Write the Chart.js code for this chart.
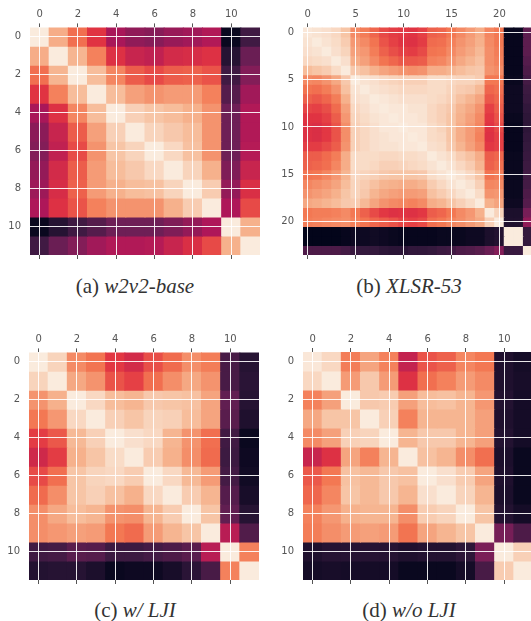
<!DOCTYPE html>
<html>
<head>
<meta charset="utf-8">
<title>Heatmaps</title>
<script src="https://cdn.jsdelivr.net/npm/chart.js@4/dist/chart.umd.min.js"></script>
<style>
  html, body { margin: 0; padding: 0; background: #fff; overflow: hidden; width: 531px; height: 621px; }
  .panel { position: absolute; filter: blur(0.4px); }
  .caption { position: absolute; transform: translate(-50%, -50%); font: 21px "Liberation Serif", serif; color: #333; white-space: nowrap; }
</style>
</head>
<body>
<canvas class="panel" id="chartA" style="left:0;top:0"></canvas>
<canvas class="panel" id="chartB" style="left:270px;top:0"></canvas>
<canvas class="panel" id="chartC" style="left:0;top:325px"></canvas>
<canvas class="panel" id="chartD" style="left:270px;top:325px"></canvas>
<div class="caption" style="left:135px;top:286px">(a) <i>w2v2-base</i></div>
<div class="caption" style="left:409px;top:286px">(b) <i>XLSR-53</i></div>
<div class="caption" style="left:135px;top:610px">(c) <i>w/ LJI</i></div>
<div class="caption" style="left:409px;top:610px">(d) <i>w/o LJI</i></div>
<script>
const rocketStops = ['#03051a', '#35193e', '#701f57', '#ad1759', '#e13342', '#f37651', '#f6b48f', '#faebdd'];

const base = [
  [1.00, .84, .70, .57, .42, .36, .34, .38, .40, .44, .02, .17],
  [.84, 1.00, .86, .74, .56, .50, .48, .53, .54, .56, .10, .27],
  [.70, .86, 1.00, .88, .75, .66, .62, .66, .67, .64, .17, .33],
  [.57, .74, .88, 1.00, .88, .81, .78, .80, .80, .74, .22, .40],
  [.42, .56, .75, .88, 1.00, .93, .90, .88, .85, .78, .28, .44],
  [.35, .50, .66, .81, .93, 1.00, .94, .91, .88, .78, .28, .44],
  [.33, .48, .62, .78, .90, .94, 1.00, .95, .89, .78, .28, .45],
  [.37, .53, .66, .80, .88, .91, .95, 1.00, .94, .85, .32, .50],
  [.39, .54, .67, .80, .85, .88, .89, .94, 1.00, .92, .37, .55],
  [.43, .56, .64, .74, .78, .78, .78, .85, .92, 1.00, .43, .62],
  [.02, .10, .17, .22, .28, .28, .28, .32, .37, .43, 1.00, .85],
  [.17, .27, .33, .40, .44, .44, .45, .50, .55, .62, .85, 1.00],
];

const xlsr = [
  [.99, .98, .97, .95, .90, .76, .73, .68, .62, .59, .58, .57, .60, .67, .68, .72, .76, .80, .84, .75, .72, .01, .01, .24],
  [.98, 1.00, .98, .96, .92, .79, .76, .71, .64, .60, .57, .56, .59, .69, .70, .74, .78, .81, .85, .76, .72, .01, .01, .24],
  [.97, .98, 1.00, .97, .94, .81, .79, .73, .67, .63, .60, .59, .62, .71, .72, .76, .80, .83, .87, .77, .73, .01, .01, .24],
  [.95, .96, .97, 1.00, .97, .84, .81, .76, .71, .68, .65, .65, .66, .74, .75, .79, .83, .86, .89, .77, .74, .01, .01, .22],
  [.88, .90, .92, .96, 1.00, .91, .89, .85, .82, .80, .78, .77, .78, .84, .84, .86, .88, .90, .91, .78, .76, .01, .01, .20],
  [.76, .75, .78, .83, .91, 1.00, .98, .97, .95, .94, .93, .93, .93, .96, .96, .95, .94, .94, .92, .72, .72, .02, .02, .18],
  [.71, .70, .73, .78, .89, .98, 1.00, .98, .97, .96, .95, .95, .95, .96, .96, .94, .92, .91, .87, .68, .70, .03, .03, .16],
  [.67, .65, .68, .73, .85, .97, .98, 1.00, .99, .98, .97, .97, .97, .96, .95, .93, .89, .86, .82, .65, .68, .03, .03, .15],
  [.61, .60, .63, .69, .81, .95, .97, .99, 1.00, .99, .99, .98, .98, .95, .93, .91, .86, .83, .78, .60, .66, .03, .03, .13],
  [.57, .57, .60, .66, .79, .94, .96, .98, .99, 1.00, .99, .99, .98, .95, .93, .90, .85, .81, .76, .58, .64, .02, .02, .12],
  [.56, .55, .58, .64, .77, .93, .95, .97, .99, .99, 1.00, .99, .99, .96, .94, .90, .84, .80, .75, .57, .62, .01, .01, .12],
  [.56, .55, .58, .64, .77, .93, .95, .97, .98, .99, .99, 1.00, .99, .96, .95, .90, .84, .80, .74, .56, .60, .01, .01, .13],
  [.59, .59, .62, .66, .78, .93, .95, .97, .98, .98, .99, .99, 1.00, .97, .96, .91, .86, .81, .76, .58, .60, .01, .01, .14],
  [.66, .66, .69, .73, .84, .96, .96, .96, .95, .95, .96, .96, .97, 1.00, .98, .96, .92, .89, .84, .66, .68, .02, .02, .15],
  [.67, .68, .70, .75, .84, .96, .96, .95, .93, .93, .94, .95, .96, .98, 1.00, .98, .95, .92, .86, .67, .70, .02, .02, .16],
  [.71, .72, .75, .79, .86, .95, .94, .93, .91, .90, .90, .90, .91, .96, .98, 1.00, .98, .95, .90, .71, .73, .02, .02, .17],
  [.75, .77, .79, .82, .88, .94, .92, .89, .86, .85, .84, .84, .86, .92, .95, .98, 1.00, .98, .93, .75, .76, .02, .02, .18],
  [.78, .80, .82, .85, .90, .94, .91, .86, .83, .81, .80, .80, .81, .89, .92, .95, .98, 1.00, .96, .78, .79, .02, .02, .20],
  [.83, .84, .86, .88, .91, .92, .87, .82, .78, .76, .75, .74, .76, .84, .86, .90, .93, .96, 1.00, .85, .82, .03, .03, .22],
  [.72, .73, .73, .74, .76, .72, .67, .62, .58, .56, .57, .56, .58, .66, .68, .72, .76, .79, .85, 1.00, .94, .07, .07, .30],
  [.73, .74, .75, .76, .77, .74, .71, .68, .66, .64, .61, .60, .62, .70, .72, .75, .77, .80, .83, .93, 1.00, .08, .08, .36],
  [.00, .00, .00, .00, .01, .03, .03, .04, .03, .02, .01, .01, .01, .01, .02, .02, .02, .03, .03, .07, .09, 1.00, 1.00, .14],
  [.00, .00, .00, .00, .01, .03, .03, .04, .03, .02, .01, .01, .01, .01, .02, .02, .02, .03, .03, .07, .09, 1.00, 1.00, .14],
  [.20, .20, .20, .20, .18, .15, .14, .14, .12, .11, .11, .13, .13, .14, .16, .17, .20, .21, .23, .27, .33, .15, .15, 1.00],
];

const withLji = [
  [1.00, .94, .76, .71, .58, .53, .63, .69, .77, .73, .19, .10],
  [.94, 1.00, .83, .78, .64, .60, .70, .77, .83, .78, .19, .11],
  [.78, .85, 1.00, .95, .88, .86, .91, .90, .89, .82, .25, .10],
  [.72, .79, .95, 1.00, .93, .90, .94, .93, .88, .82, .23, .08],
  [.59, .65, .87, .93, 1.00, .97, .95, .86, .78, .70, .17, .02],
  [.52, .59, .85, .90, .96, 1.00, .92, .85, .77, .69, .16, .03],
  [.62, .70, .90, .94, .95, .92, 1.00, .95, .87, .80, .18, .04],
  [.69, .77, .90, .93, .89, .85, .95, 1.00, .92, .86, .22, .06],
  [.77, .83, .88, .86, .78, .77, .86, .92, 1.00, .90, .25, .10],
  [.77, .79, .81, .80, .72, .69, .80, .86, .90, 1.00, .46, .21],
  [.17, .18, .23, .22, .16, .16, .18, .20, .23, .46, 1.00, .74],
  [.09, .10, .10, .07, .02, .03, .03, .06, .11, .19, .74, 1.00],
];

const withoutLji = [
  [.99, .95, .73, .82, .74, .49, .64, .67, .75, .72, .08, .05],
  [.95, 1.00, .80, .91, .80, .56, .70, .74, .80, .76, .08, .06],
  [.74, .81, 1.00, .91, .92, .81, .88, .89, .86, .79, .09, .05],
  [.83, .90, .90, 1.00, .93, .74, .86, .86, .86, .81, .08, .05],
  [.76, .81, .93, .94, 1.00, .86, .91, .91, .86, .81, .09, .05],
  [.50, .56, .82, .74, .86, 1.00, .89, .86, .77, .70, .07, .02],
  [.65, .72, .89, .87, .91, .89, 1.00, .97, .92, .82, .08, .02],
  [.68, .75, .90, .87, .91, .86, .97, 1.00, .94, .86, .07, .02],
  [.74, .79, .85, .86, .86, .77, .92, .94, 1.00, .90, .09, .05],
  [.73, .77, .80, .81, .80, .71, .82, .86, .90, 1.00, .30, .20],
  [.08, .10, .10, .10, .10, .08, .09, .09, .12, .31, 1.00, .93],
  [.05, .06, .05, .05, .05, .02, .02, .02, .05, .19, .92, 1.00],
];

function hexToRgb(hex) {
  return [1, 3, 5].map((i) => parseInt(hex.slice(i, i + 2), 16));
}

function rocket(v) {
  const pos = Math.min(Math.max(v, 0), 1) * (rocketStops.length - 1);
  const i = Math.min(Math.floor(pos), rocketStops.length - 2);
  const a = hexToRgb(rocketStops[i]);
  const b = hexToRgb(rocketStops[i + 1]);
  const c = a.map((x, k) => Math.round(x + (b[k] - x) * (pos - i)));
  return `rgb(${c[0]}, ${c[1]}, ${c[2]})`;
}

function drawHeatmap(id, matrix, step, frame) {
  const canvas = document.getElementById(id);
  canvas.width = frame.width;
  canvas.height = frame.height;
  canvas.style.width = frame.width + 'px';
  canvas.style.height = frame.height + 'px';

  const n = matrix.length;
  const labels = matrix.map((_, i) => String(i));
  const tickFont = { family: 'DejaVu Sans', size: 10 };
  const keepTicks = (scale) => {
    scale.ticks = scale.ticks.filter((t) => t.value % step === 0);
  };

  const xBase = {
    type: 'category',
    labels,
    offset: true,
    border: { display: false },
  };

  // eslint-disable-next-line no-new
  new Chart(canvas, {
    type: 'bar',
    data: {
      labels,
      datasets: matrix.map((row, r) => ({
        data: row.map(() => [r, r + 1]),
        backgroundColor: (ctx) => rocket(row[ctx.dataIndex]),
        borderWidth: 0,
        barPercentage: 1,
        categoryPercentage: 1,
        inflateAmount: 0.5,
        grouped: false,
      })),
    },
    options: {
      responsive: false,
      animation: false,
      devicePixelRatio: 1,
      layout: {
        autoPadding: false,
        padding: { right: frame.width - frame.left - frame.size },
      },
      plugins: { legend: { display: false }, tooltip: { enabled: false } },
      scales: {
        x: {
          ...xBase,
          position: 'bottom',
          afterBuildTicks: keepTicks,
          afterFit: (scale) => { scale.height = frame.height - frame.top - frame.size; },
          ticks: { autoSkip: false, maxRotation: 0, display: false },
          grid: {
            offset: false,
            color: 'rgba(255, 255, 255, 0.9)',
            lineWidth: 1,
            z: 1,
            tickColor: '#555',
            tickLength: 4,
          },
        },
        xTop: {
          ...xBase,
          axis: 'x',
          position: 'top',
          afterBuildTicks: keepTicks,
          afterFit: (scale) => { scale.height = frame.top; },
          ticks: { autoSkip: false, maxRotation: 0, color: '#555', font: tickFont, padding: 3 },
          grid: { offset: false, drawOnChartArea: false, tickColor: '#555', tickLength: 4 },
        },
        y: {
          min: 0,
          max: n,
          reverse: true,
          position: 'left',
          border: { display: false },
          afterBuildTicks: (scale) => {
            scale.ticks = labels
              .filter((_, i) => i % step === 0)
              .map((label) => ({ value: Number(label) + 0.5 }));
          },
          afterFit: (scale) => { scale.width = frame.left; },
          ticks: {
            color: '#555',
            font: tickFont,
            padding: 9,
            callback: (value) => String(value - 0.5),
          },
          grid: {
            color: 'rgba(255, 255, 255, 0.9)',
            lineWidth: 1,
            z: 1,
            drawTicks: false,
          },
        },
      },
    },
  });
}

document.addEventListener('DOMContentLoaded', () => {
  drawHeatmap('chartA', base, 2, { width: 265, height: 270, left: 30, top: 27.4, size: 230 });
  drawHeatmap('chartB', xlsr, 5, { width: 270, height: 270, left: 33, top: 27.4, size: 230 });
  drawHeatmap('chartC', withLji, 2, { width: 265, height: 270, left: 29, top: 27.4, size: 230 });
  drawHeatmap('chartD', withoutLji, 2, { width: 270, height: 270, left: 33, top: 27, size: 230 });
});
</script>
</body>
</html>
